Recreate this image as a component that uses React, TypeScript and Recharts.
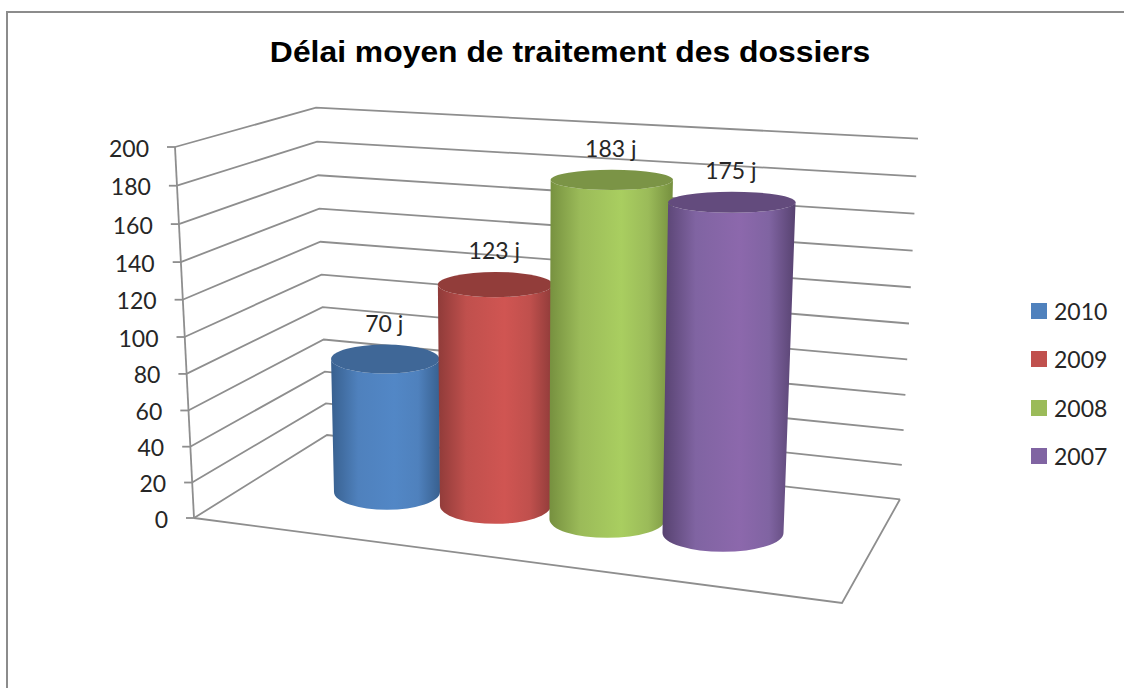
import React from 'react';
import { BarChart, Bar, XAxis, YAxis, Legend, CartesianGrid } from 'recharts';

// ---- data ----
const title = 'Délai moyen de traitement des dossiers';
const years = ['2010', '2009', '2008', '2007'];
const delays = [70, 123, 183, 175];
const yTicks = [0, 20, 40, 60, 80, 100, 120, 140, 160, 180, 200];
const unit = 'j';

// ---- styles ----
const baseColors = ['#4f81bd', '#c0504d', '#9bbb59', '#8064a2'];
const edgeColors = ['#38608f', '#8f3b39', '#76903f', '#574270'];
const lightColors = ['#5287c6', '#d05552', '#a9ce60', '#8c68ac'];
const capColors = ['#3f6797', '#923d3a', '#7b9446', '#634b7d'];
const depthCorrection = [1.024, 0.969, 1.0, 1.019];
const gridColor = '#8e8e8e';
const textColor = '#262626';
const labelFont = 'Lato, sans-serif';

const rows = [Object.fromEntries(years.map((y, i) => [y, delays[i]]))];

// ---- 3D projection of the chart frame ----
const PLOT_TOP = 147;
const PLOT_BOTTOM = 518;
const frac = (y: number) => (y - PLOT_TOP) / (PLOT_BOTTOM - PLOT_TOP);
const lerp = (a: number, b: number, f: number) => a + (b - a) * f;
const bow = (y: number, k: number) => k * frac(y) * (1 - frac(y));
const frontPoint = (y: number) => [lerp(175, 194, frac(y)), y + bow(y, 18)];
const backPoint = (y: number) => [lerp(316, 327, frac(y)), lerp(107.7, 435, frac(y)) + bow(y, 13)];
const rightPoint = (y: number) => [lerp(918, 900, frac(y)), lerp(138.7, 499.3, frac(y)) + bow(y, 18)];
const FLOOR_CORNER = [842, 603];

const pts = (list: number[][]) => list.map((p) => p.join(',')).join(' ');

function wallLine(props: any) {
  const y = props.y1 ?? props.y;
  const f = frontPoint(y);
  const isFloor = Math.abs(y - PLOT_BOTTOM) < 0.5;
  return (
    <g key={`wall-${y}`}>
      <polyline points={pts([f, backPoint(y), rightPoint(y)])} fill="none" stroke={gridColor} strokeWidth={1.8} />
      {isFloor && (
        <polyline points={pts([f, FLOOR_CORNER, rightPoint(y)])} fill="none" stroke={gridColor} strokeWidth={1.8} />
      )}
    </g>
  );
}

function WallTick(props: any) {
  const { y, payload } = props;
  const f = frontPoint(y);
  return (
    <g>
      <line x1={f[0] - 8} y1={f[1]} x2={f[0]} y2={f[1]} stroke={gridColor} strokeWidth={1.8} />
      {payload.value === 0 && (
        <line
          x1={f[0]}
          y1={f[1]}
          x2={frontPoint(PLOT_TOP)[0]}
          y2={PLOT_TOP}
          stroke={gridColor}
          strokeWidth={1.8}
        />
      )}
      <text
        x={f[0] - 26}
        y={f[1] + 0.5}
        textAnchor="end"
        dominantBaseline="central"
        fontFamily={labelFont}
        fontSize={23}
        fill={textColor}
      >
        {payload.value}
      </text>
    </g>
  );
}

function ellipseRy(y: number) {
  return 10 + (y - 179) * 0.025;
}

function Cylinder(props: any) {
  const { x, width, height, index } = props;
  const u = x + width / 2;
  const t = (u - 387) / 336;
  const vanish = 500;
  const xb = u - 16 * t * (1 - t);
  const yb = 492 + 41 * t;
  const rxb = 53 + 7.5 * t;
  const h = height * depthCorrection[index];
  const yt = yb - h;
  const xt = vanish + (xb - vanish) * (1 + 0.00012 * h);
  const rxt = rxb * (1 + 0.00016 * h);
  const ryt = ellipseRy(yt);
  const ryb = ellipseRy(yb);
  const id = `cyl-${index}`;
  const d = [
    `M${xt - rxt},${yt}`,
    `L${xb - rxb},${yb}`,
    `A${rxb},${ryb} 0 0 0 ${xb + rxb},${yb}`,
    `L${xt + rxt},${yt}`,
    `A${rxt},${ryt} 0 0 1 ${xt - rxt},${yt}`,
    'Z',
  ].join(' ');
  return (
    <g>
      <defs>
        <linearGradient id={id} x1="0" y1="0" x2="1" y2="0">
          <stop offset="0" stopColor={edgeColors[index]} />
          <stop offset="0.25" stopColor={baseColors[index]} />
          <stop offset="0.58" stopColor={lightColors[index]} />
          <stop offset="0.8" stopColor={baseColors[index]} />
          <stop offset="1" stopColor={edgeColors[index]} />
        </linearGradient>
      </defs>
      <path d={d} fill={`url(#${id})`} />
      <ellipse cx={xt} cy={yt} rx={rxt} ry={ryt} fill={capColors[index]} />
      <text
        x={xt - 1}
        y={yt - ryt - 21.5}
        textAnchor="middle"
        dominantBaseline="central"
        fontFamily={labelFont}
        fontSize={23}
        fill={textColor}
      >
        {`${delays[index]} ${unit}`}
      </text>
    </g>
  );
}

function LegendBlock(props: any) {
  const items = props.payload || [];
  return (
    <div style={{ width: 90 }}>
      {items.map((it: any) => (
        <div
          key={it.value}
          style={{ height: 48.3, display: 'flex', alignItems: 'center', fontFamily: labelFont, fontSize: 23, color: textColor }}
        >
          <span style={{ width: 16, height: 16, background: it.color, display: 'inline-block', marginRight: 7, flex: 'none' }} />
          {it.value}
        </div>
      ))}
    </div>
  );
}

export default function App() {
  return (
    <div style={{ position: 'absolute', left: 0, top: 0, width: 1124, height: 688, background: '#fff', overflow: 'hidden' }}>
      <div
        style={{
          position: 'absolute',
          left: 6,
          top: 11,
          width: 1130,
          height: 700,
          borderTop: '2px solid #8c8c8c',
          borderLeft: '2px solid #8c8c8c',
          boxSizing: 'border-box',
        }}
      />
      <div
        style={{
          position: 'absolute',
          left: 0,
          top: 35,
          width: 1140,
          textAlign: 'center',
          fontFamily: '"Liberation Sans", Arial, sans-serif',
          fontWeight: 700,
          fontSize: 30,
          lineHeight: '34px',
          color: '#000',
          transform: 'scaleX(1.062)',
          transformOrigin: '570px 0',
        }}
      >
        {title}
      </div>
      <div style={{ position: 'absolute', left: 0, top: 0 }}>
        <BarChart
          width={1124}
          height={688}
          data={rows}
          margin={{ top: PLOT_TOP, bottom: 688 - PLOT_BOTTOM, left: 321, right: 345 }}
          barCategoryGap={0}
          barGap={0}
        >
          <CartesianGrid vertical={false} horizontal={wallLine} />
          <XAxis hide dataKey={() => ''} />
          <YAxis
            width={10}
            domain={[0, 200]}
            ticks={yTicks}
            interval={0}
            axisLine={false}
            tickLine={false}
            tick={(p: any) => <WallTick {...p} />}
          />
          {years.map((year, i) => (
            <Bar
              key={year}
              dataKey={year}
              name={year}
              fill={baseColors[i]}
              isAnimationActive={false}
              shape={(p: any) => <Cylinder {...p} index={i} />}
            />
          ))}
          <Legend
            layout="vertical"
            align="center"
            verticalAlign="middle"
            itemSorter={null}
            content={<LegendBlock />}
            wrapperStyle={{ position: 'absolute', left: 1031, top: 287, width: 90 }}
          />
        </BarChart>
      </div>
    </div>
  );
}
